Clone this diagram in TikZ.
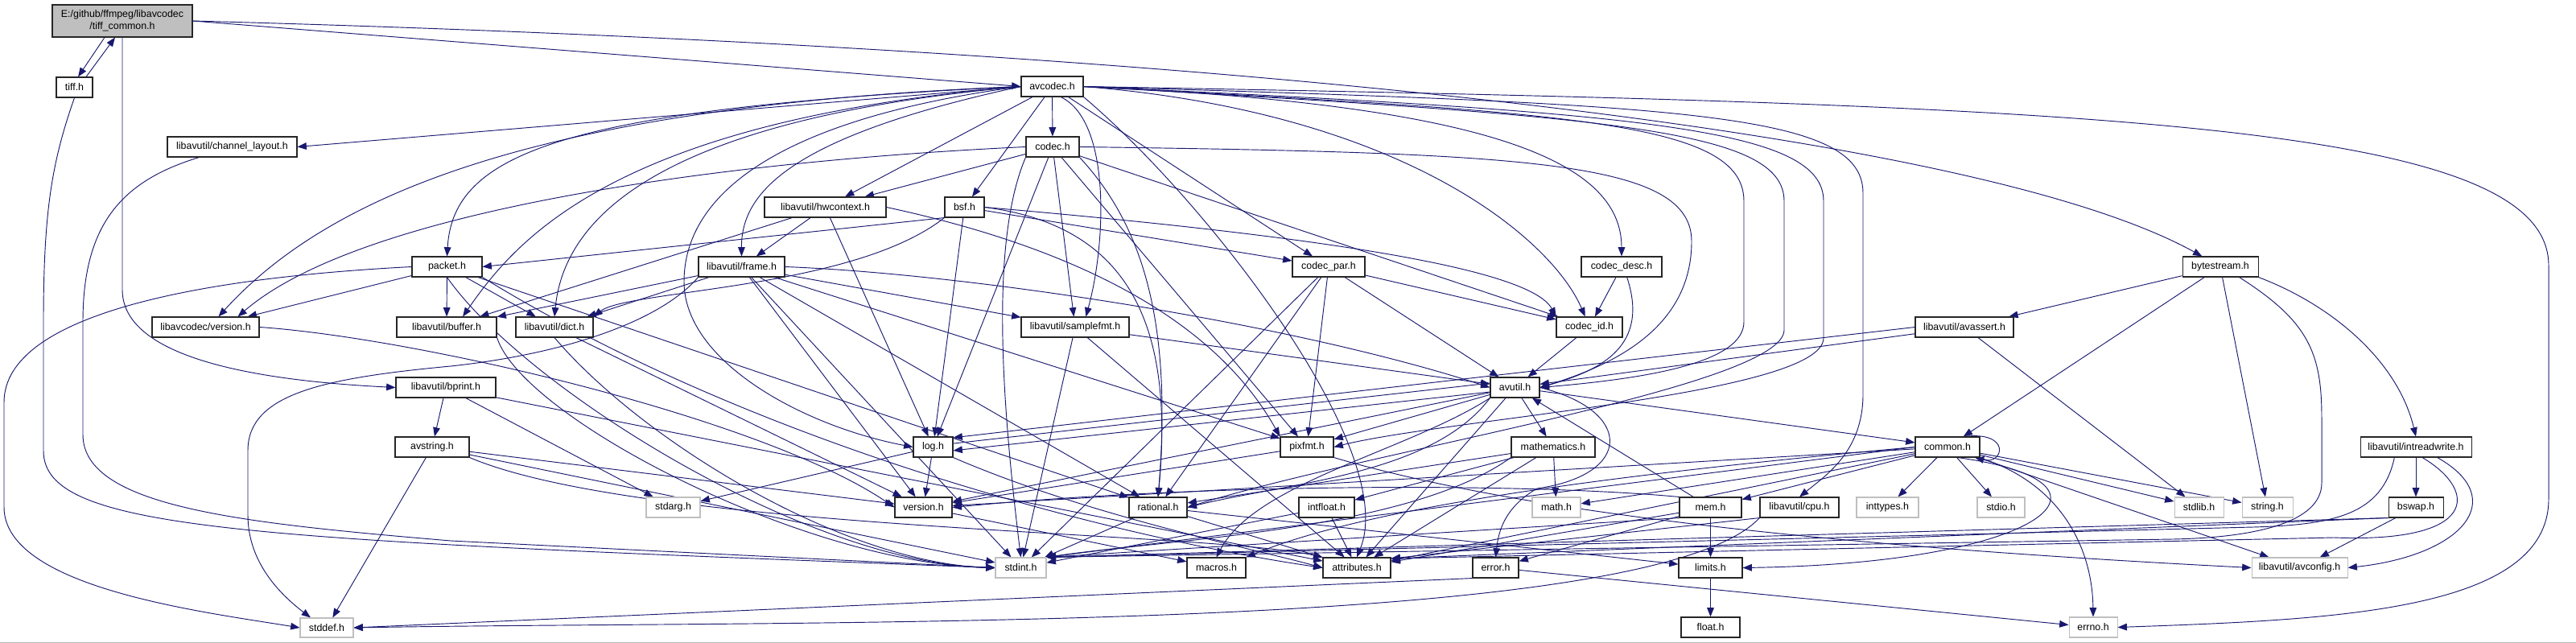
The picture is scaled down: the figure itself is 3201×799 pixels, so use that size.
\documentclass[tikz,border=0pt]{standalone}
\usepackage{fontspec}
\setmainfont{Liberation Sans}
\usetikzlibrary{arrows.meta}
\definecolor{edgecol}{HTML}{191970}
\definecolor{sysgrey}{HTML}{BFBFBF}
\pgfdeclarelayer{bg}
\pgfsetlayers{bg,main}
\newcommand\nd[7]{\node[#7, minimum width={(#4-#2)*0.75pt}, minimum height={(#5-#3)*0.75pt}] (#1) at ({(#2+#4)/2},{(#3+#5)/2}) {#6};}
\begin{document}
\begin{tikzpicture}[x=0.75pt,y=-0.75pt,
  font=\fontsize{9.3}{11.5}\selectfont,
  box/.style={draw=black!85, line width=0.8pt, fill=white, inner sep=0pt, align=center},
  sysbox/.style={draw=sysgrey, line width=0.8pt, fill=white, inner sep=0pt, align=center},
  rootbox/.style={draw=black!85, line width=0.8pt, fill=sysgrey, inner sep=0pt, align=center},
  dep/.style={draw=edgecol, line width=0.7pt, -{Triangle[length=8.5pt,width=6.5pt]}}]
\useasboundingbox (0,0) rectangle (3201,799);
\begin{pgfonlayer}{bg}
\fill[white] (0,0) rectangle (3201,799);
\end{pgfonlayer}
% nodes
\nd{root}{65}{6}{239}{46}{E:/github/ffmpeg/libavcodec\\/tiff\_common.h}{rootbox}
\nd{tiff}{70}{96}{115}{121}{tiff.h}{box}
\nd{chlayout}{208}{170}{369}{195}{libavutil/channel\_layout.h}{box}
\nd{lcversion}{189}{394}{322}{419}{libavcodec/version.h}{box}
\nd{stddef}{373}{768}{439}{792}{stddef.h}{sysbox}
\nd{packet}{512}{319}{599}{344}{packet.h}{box}
\nd{buffer}{493}{394}{617}{419}{libavutil/buffer.h}{box}
\nd{dict}{641}{394}{737}{419}{libavutil/dict.h}{box}
\nd{bprint}{492}{469}{616}{494}{libavutil/bprint.h}{box}
\nd{avstring}{491}{543}{583}{568}{avstring.h}{box}
\nd{stdarg}{803}{618}{870}{643}{stdarg.h}{sysbox}
\nd{hwcontext}{950}{245}{1101}{270}{libavutil/hwcontext.h}{box}
\nd{frame}{868}{319}{975}{344}{libavutil/frame.h}{box}
\nd{avcodec}{1269}{95}{1346}{120}{avcodec.h}{box}
\nd{codec}{1275}{170}{1341}{195}{codec.h}{box}
\nd{bsf}{1174}{245}{1223}{270}{bsf.h}{box}
\nd{samplefmt}{1269}{394}{1403}{419}{libavutil/samplefmt.h}{box}
\nd{log}{1135}{543}{1184}{568}{log.h}{box}
\nd{version}{1112}{618}{1183}{643}{version.h}{box}
\nd{stdint}{1237}{693}{1300}{718}{stdint.h}{sysbox}
\nd{rational}{1403}{618}{1475}{643}{rational.h}{box}
\nd{macros}{1475}{693}{1548}{718}{macros.h}{box}
\nd{codecpar}{1606}{319}{1696}{344}{codec\_par.h}{box}
\nd{codecdesc}{1965}{319}{2065}{344}{codec\_desc.h}{box}
\nd{codecid}{1934}{394}{2016}{419}{codec\_id.h}{box}
\nd{avutil}{1852}{469}{1913}{494}{avutil.h}{box}
\nd{pixfmt}{1591}{543}{1657}{568}{pixfmt.h}{box}
\nd{mathematics}{1878}{543}{1982}{568}{mathematics.h}{box}
\nd{intfloat}{1614}{618}{1683}{643}{intfloat.h}{box}
\nd{math}{1904}{618}{1964}{643}{math.h}{sysbox}
\nd{attributes}{1644}{693}{1728}{718}{attributes.h}{box}
\nd{error}{1830}{693}{1887}{718}{error.h}{box}
\nd{mem}{2087}{618}{2164}{643}{mem.h}{box}
\nd{limits}{2086}{693}{2165}{718}{limits.h}{box}
\nd{float}{2089}{767}{2162}{792}{float.h}{box}
\nd{cpu}{2187}{618}{2285}{643}{libavutil/cpu.h}{box}
\nd{inttypes}{2307}{618}{2384}{643}{inttypes.h}{sysbox}
\nd{stdio}{2457}{618}{2516}{643}{stdio.h}{sysbox}
\nd{common}{2380}{543}{2460}{568}{common.h}{box}
\nd{errno}{2571}{767}{2631}{792}{errno.h}{sysbox}
\nd{avassert}{2380}{394}{2502}{419}{libavutil/avassert.h}{box}
\nd{bytestream}{2712}{319}{2806}{344}{bytestream.h}{box}
\nd{stdlib}{2702}{618}{2763}{643}{stdlib.h}{sysbox}
\nd{string}{2786}{618}{2849}{643}{string.h}{sysbox}
\nd{intreadwrite}{2933}{543}{3071}{568}{libavutil/intreadwrite.h}{box}
\nd{bswap}{2968}{618}{3036}{643}{bswap.h}{box}
\nd{avconfig}{2798}{693}{2917}{718}{libavutil/avconfig.h}{sysbox}
% edges
\begin{pgfonlayer}{bg}
\foreach \a/\b in {avcodec/codec, avcodec/bsf, avcodec/hwcontext, avcodec/codecpar,
 codec/hwcontext, codec/log, codec/pixfmt, codec/samplefmt, codec/codecid,
 bsf/log, bsf/codecpar,
 codecpar/stdint, codecpar/avutil, codecpar/rational, codecpar/pixfmt, codecpar/codecid,
 codecdesc/codecid, codecid/avutil,
 packet/buffer, packet/dict, packet/rational, packet/lcversion,
 hwcontext/buffer, hwcontext/frame, hwcontext/log,
 frame/stdint, frame/buffer, frame/dict, frame/rational, frame/samplefmt, frame/pixfmt, frame/version,
 dict/version,
 bprint/stdarg, bprint/attributes, bprint/avstring,
 avstring/stddef, avstring/stdint, avstring/version,
 log/stdarg, log/version,
 avutil/common, avutil/version, avutil/mathematics, avutil/pixfmt, avutil/attributes,
 pixfmt/version,
 mathematics/math, mathematics/attributes, mathematics/rational, mathematics/intfloat,
 rational/stdint, rational/limits, rational/attributes,
 intfloat/stdint, intfloat/attributes,
 common/inttypes, common/math, common/stdio, common/stdlib, common/string, common/attributes, common/version, common/avconfig, common/mem,
 mem/limits, mem/attributes, mem/error, mem/avutil,
 error/errno, limits/float,
 avassert/stdlib, avassert/avutil,
 bytestream/string, bytestream/avassert, bytestream/common,
 intreadwrite/bswap, bswap/avconfig,
 samplefmt/stdint, samplefmt/avutil, samplefmt/attributes,
 version/macros}
 \draw[dep] (\a) -- (\b);
% root and tiff
\draw[dep] ([xshift=-16.5pt]root.south) -- ([xshift=3.4pt]tiff.north);
\draw[dep] ([xshift=10.9pt]tiff.north) -- ([xshift=-6.75pt]root.south);
\draw[dep] (root.east) -- (avcodec.west);
\draw[dep] (root.east) .. controls (1500,60) and (2450,160) .. ([xshift=-17pt]bytestream.north);
\draw[dep] (root.south) -- (152,360) .. controls (152,440) and (300,472) .. (bprint.west);
\draw[dep] (tiff.south) .. controls (65,200) and (54,260) .. (54,400) -- (54,560) .. controls (54,660) and (300,670) .. (stdint.west);
\draw[dep] ([xshift=30pt]chlayout.south west) .. controls (150,225) and (103,280) .. (103,400) -- (103,540) .. controls (103,630) and (300,650) .. (560,672) -- (stdint.west);
\draw[dep] (packet.west) .. controls (250,345) and (5,390) .. (5,500) -- (5,630) .. controls (5,730) and (250,760) .. (stddef.west);
\draw[dep] (frame.south west) .. controls (820,400) and (700,440) .. (560,455) .. controls (400,470) and (308,490) .. (308,560) -- (308,640) .. controls (308,700) and (350,740) .. ([xshift=-15pt]stddef.north);
% avcodec long routes
\draw[dep] (avcodec.east) .. controls (2600,130) and (3167,150) .. (3167,330) -- (3167,620) .. controls (3167,760) and (2900,770) .. (errno.east);
\draw[dep] (codec.east) .. controls (1900,190) and (2102,200) .. (2102,300) .. controls (2102,410) and (2000,455) .. (avutil.east);
\draw[dep] (avcodec.east) .. controls (1950,140) and (2167,150) .. (2167,250) -- (2167,400) .. controls (2167,450) and (2050,470) .. (avutil.east);
\draw[dep] (avcodec.east) .. controls (2000,145) and (2217,160) .. (2217,250) -- (2217,410) .. controls (2217,480) and (1700,560) .. (rational.east);
\draw[dep] (avcodec.east) .. controls (2050,140) and (2266,160) .. (2266,250) -- (2266,420) .. controls (2266,490) and (1800,520) .. (pixfmt.east);
\draw[dep] (avcodec.east) .. controls (2100,130) and (2315,140) .. (2315,240) -- (2315,490) .. controls (2315,560) and (2270,590) .. (cpu.north);
\draw[dep] ([xshift=8pt]avcodec.south) .. controls (1380,150) and (1375,300) .. ([xshift=10pt]samplefmt.north);
\draw[dep] (avcodec.west) .. controls (700,130) and (420,230) .. ([xshift=12pt]lcversion.north);
\draw[dep] (avcodec.west) .. controls (700,135) and (563,190) .. (packet.north);
\draw[dep] (avcodec.west) .. controls (760,150) and (640,300) .. ([xshift=15pt]buffer.north);
\draw[dep] (avcodec.west) .. controls (800,150) and (700,280) .. (dict.north);
\draw[dep] (avcodec.west) .. controls (980,170) and (921,240) .. (frame.north);
\draw[dep] (avcodec.west) .. controls (950,150) and (850,250) .. (850,350) .. controls (850,450) and (1000,530) .. (log.west);
\draw[dep] (avcodec.west) -- (chlayout.east);
\draw[dep] (avcodec.east) .. controls (1850,130) and (2015,200) .. (codecdesc.north);
\draw[dep] (avcodec.east) .. controls (1750,140) and (1930,300) .. ([xshift=-4pt]codecid.north);
\draw[dep] (avcodec.south east) .. controls (1500,250) and (1740,560) .. (attributes.north);
% codec, bsf
\draw[dep] (codec.south west) .. controls (1230,300) and (1245,500) .. (stdint.north);
\draw[dep] (codec.south east) .. controls (1420,280) and (1457,400) .. (rational.north);
\draw[dep] (codec.west) .. controls (900,200) and (450,260) .. ([xshift=30pt]lcversion.north);
\draw[dep] (bsf.south west) -- (packet.east);
\draw[dep] (bsf.south west) .. controls (1060,360) and (780,360) .. (dict.north east);
\draw[dep] (bsf.east) .. controls (1400,280) and (1460,400) .. (rational.north);
\draw[dep] (bsf.east) .. controls (1600,290) and (1900,330) .. (codecid.north west);
\draw[dep] ([xshift=5pt]codecdesc.south) .. controls (2050,430) and (1990,460) .. (avutil.east);
% left cluster
\draw[dep] (packet.south east) .. controls (950,560) and (1400,670) .. (attributes.west);
\draw[dep] (packet.south) .. controls (650,480) and (1000,700) .. (stdint.west);
\draw[dep] (dict.south) .. controls (800,550) and (1050,700) .. (stdint.west);
\draw[dep] (buffer.south east) .. controls (650,520) and (1000,700) .. (stdint.west);
\draw[dep] (lcversion.east) .. controls (520,420) and (950,520) .. (version.west);
\draw[dep] (hwcontext.east) .. controls (1300,300) and (1500,380) .. (pixfmt.north west);
\draw[dep] (frame.east) .. controls (1200,340) and (1600,400) .. (avutil.west);
\draw[dep] (avstring.south east) .. controls (800,660) and (1500,660) .. (attributes.north west);
\draw[dep] (log.south east) .. controls (1350,640) and (1550,680) .. (attributes.west);
% avutil cluster
\draw[dep] (avutil.190) -- (log.350);
\draw[dep] (log.10) -- (avutil.170);
\draw[dep] (avutil.south west) .. controls (1780,590) and (1600,600) .. (rational.east);
\draw[dep] (avutil.south west) .. controls (1750,560) and (1560,600) .. (macros.north);
\draw[dep] (avutil.east) .. controls (2030,510) and (2030,590) .. (1910,607) .. controls (1870,630) and (1862,660) .. (error.north);
\draw[dep] (pixfmt.south east) .. controls (1900,640) and (2300,680) .. (avconfig.west);
\draw[dep] (mathematics.south west) .. controls (1750,660) and (1450,670) .. (stdint.north east);
% common cluster
\draw[dep] ([xshift=15pt]common.north) .. controls (2500,535) and (2490,578) .. ([xshift=-5pt]common.south east);
\draw[dep] ([xshift=-21pt]common.south east) .. controls (2660,600) and (2540,700) .. (limits.east);
\draw[dep] ([xshift=-1pt]common.south east) .. controls (2560,600) and (2600,680) .. (errno.north);
\draw[dep] (common.west) -- (stdint.north east);
\draw[dep] (common.west) .. controls (2000,590) and (1700,630) .. (macros.north east);
\draw[dep] (mem.south west) -- (stdint.north east);
\draw[dep] (mem.north west) .. controls (1900,600) and (1500,600) .. (version.east);
\draw[dep] (error.south west) -- (stddef.east);
\draw[dep] (cpu.south west) -- (attributes.15);
\draw[dep] (cpu.south west) .. controls (2050,790) and (1000,770) .. (stddef.east);
\draw[dep] (avassert.west) -- (log.25);
% right cluster
\draw[dep] (bytestream.south east) .. controls (2900,380) and (2980,450) .. (intreadwrite.north);
\draw[dep] ([xshift=-18pt]bytestream.south east) .. controls (2870,400) and (2885,440) .. (2885,520) -- (2885,600) .. controls (2885,650) and (2800,668) .. (2700,670) -- (stdint.north east);
\draw[dep] ([xshift=-20pt]intreadwrite.south) .. controls (2960,640) and (2900,652) .. (2800,655) -- (stdint.north east);
\draw[dep] ([xshift=6pt]intreadwrite.south) .. controls (3080,610) and (3080,675) .. (2900,668) -- (attributes.15);
\draw[dep] ([xshift=20pt]intreadwrite.south) .. controls (3120,620) and (3060,690) .. (avconfig.east);
\draw[dep] (bswap.south west) -- (stdint.north east);
\draw[dep] (bswap.south west) -- (attributes.15);
\draw[gray!55, line width=0.75pt] (0,798) -- (3201,798);
\end{pgfonlayer}
\end{tikzpicture}
\end{document}
